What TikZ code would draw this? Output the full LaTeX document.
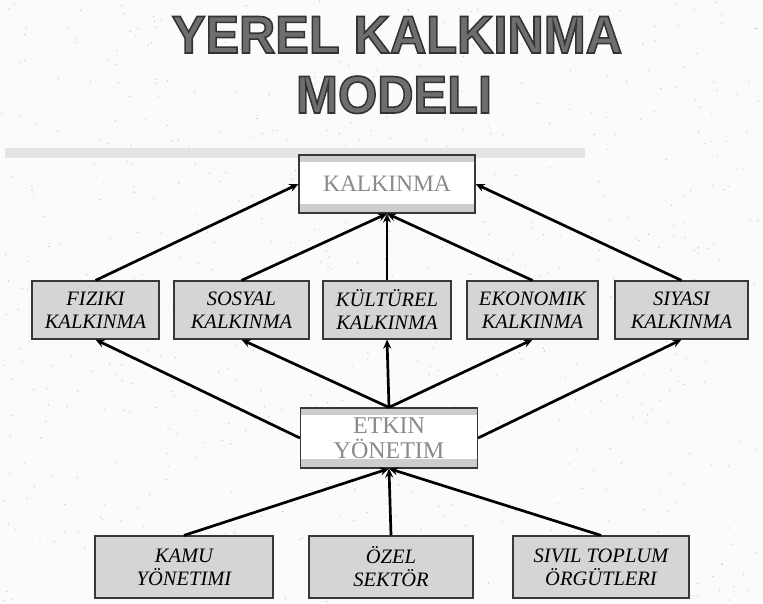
\documentclass[tikz,border=0pt]{standalone}
\usepackage{fontspec}
\setmainfont{Liberation Serif}
\newfontfamily\titlefont{Liberation Sans}
\usetikzlibrary{arrows.meta}
\definecolor{bgc}{HTML}{FBFBFB}
\definecolor{speck}{HTML}{C8C8C8}
\definecolor{boxfill}{HTML}{D5D5D5}
\definecolor{boxline}{HTML}{383838}
\definecolor{stripe}{HTML}{CDCDCD}
\definecolor{headtext}{HTML}{8A8A8A}
\definecolor{titlefill}{HTML}{6E6E6E}
\definecolor{barc}{HTML}{E4E4E4}
\newcommand{\outlinetxt}[1]{\textcolor{titlefill}{\special{pdf:literal direct 2 Tr 1.6 w 0.2 G}#1\special{pdf:literal direct 0 Tr}}}
\tikzset{
  rowbox/.style={draw=boxline, line width=1.2pt, fill=boxfill, rectangle,
    inner sep=0pt, align=center, font=\fontsize{20.5}{23}\selectfont\itshape},
  headbox/.style={draw=boxline, line width=1.2pt, fill=white, rectangle,
    inner sep=0pt, align=center, text=headtext,
    font=\fontsize{23.5}{25}\selectfont,
    path picture={
      \fill[stripe] (path picture bounding box.north west) rectangle ([yshift=-7pt]path picture bounding box.north east);
      \fill[stripe] (path picture bounding box.south west) rectangle ([yshift=9pt]path picture bounding box.south east);
    }},
  arr/.style={line width=2.7pt, -{Stealth[length=9pt,width=8pt]}},
  titletext/.style={anchor=base, inner sep=0pt, font=\titlefont\bfseries\fontsize{53}{53}\selectfont}
}
\begin{document}
\begin{tikzpicture}[x=1pt,y=-1pt]
\useasboundingbox (0,0) rectangle (763,603);
\fill[bgc] (0,0) rectangle (763,603);
\pgfmathsetseed{11}
\foreach \i in {1,...,650} {
  \fill[speck] ({rnd*763},{rnd*603}) circle (0.7pt);
}
% title
\node[titletext] (title1) at (397,53) {\scalebox{0.95}[1]{\outlinetxt{YEREL KALKINMA}}};
\node[titletext] (title2) at (394,113) {\scalebox{0.95}[1]{\outlinetxt{MODELI}}};
% bar
\fill[barc] (5,148) rectangle (585,158);
% top box
\node[headbox, minimum width=176pt, minimum height=58pt] (kal) at (387,184) {KALKINMA};
% row
\node[rowbox, minimum width=127pt, minimum height=58pt] (fiz) at (95.5,310) {FIZIKI\\KALKINMA};
\node[rowbox, minimum width=135pt, minimum height=58pt] (sos) at (241.5,310) {SOSYAL\\KALKINMA};
\node[rowbox, minimum width=128pt, minimum height=58pt] (kul) at (387,310) {KÜLTÜREL\\KALKINMA};
\node[rowbox, minimum width=131pt, minimum height=58pt] (eko) at (532.5,310) {EKONOMIK\\KALKINMA};
\node[rowbox, minimum width=133pt, minimum height=58pt] (siy) at (681.5,310) {SIYASI\\KALKINMA};
% middle
\node[headbox, minimum width=177pt, minimum height=60pt, font=\fontsize{24}{25}\selectfont] (etk) at (389,438) {ETKIN\\YÖNETIM};
% bottom
\node[rowbox, minimum width=178pt, minimum height=62pt] (kam) at (184,567) {KAMU\\YÖNETIMI};
\node[rowbox, minimum width=164pt, minimum height=62pt] (oze) at (391,567) {ÖZEL\\SEKTÖR};
\node[rowbox, minimum width=176pt, minimum height=62pt] (siv) at (601,567) {SIVIL TOPLUM\\ÖRGÜTLERI};
% arrows up to KALKINMA
\draw[arr] (fiz.north) -- (kal.west);
\draw[arr] (sos.north) -- (kal.south);
\draw[arr] (kul.north) -- (kal.south);
\draw[arr] (eko.north) -- (kal.south);
\draw[arr] (siy.north) -- (kal.east);
% arrows from ETKIN
\draw[arr] (etk.west) -- (fiz.south);
\draw[arr] (etk.north) -- (sos.south);
\draw[arr] (etk.north) -- (kul.south);
\draw[arr] (etk.north) -- (eko.south);
\draw[arr] (etk.east) -- (siy.south);
% bottom to ETKIN
\draw[arr] (kam.north) -- (etk.south);
\draw[arr] (oze.north) -- (etk.south);
\draw[arr] (siv.north) -- (etk.south);
\end{tikzpicture}
\end{document}
